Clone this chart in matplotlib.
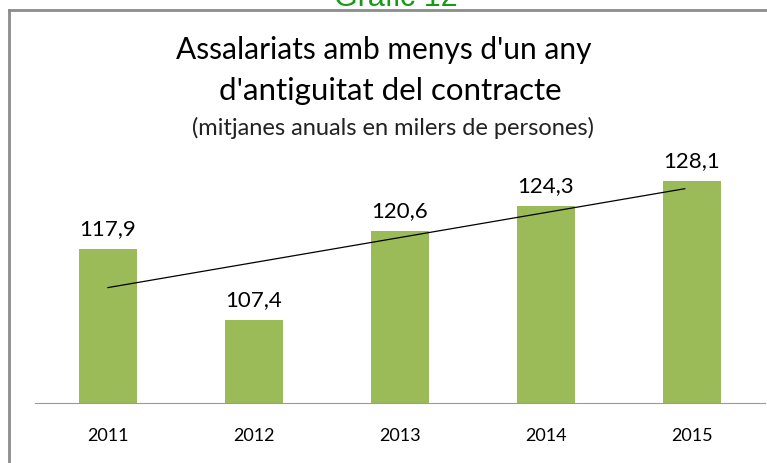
import numpy as np
from matplotlib import pyplot as plt
from matplotlib.lines import Line2D

# dades del grafic
anys = ['2011', '2012', '2013', '2014', '2015']
valors = [117.9, 107.4, 120.6, 124.3, 128.1]
etiquetes = ['117,9', '107,4', '120,6', '124,3', '128,1']

plt.rcParams['font.family'] = ['Lato', 'DejaVu Sans']

fig = plt.figure(figsize=(7.67, 4.63), dpi=100)

# marc gris del grafic
fig.add_artist(Line2D([9/767, 9/767], [0, 1 - 10/463], color='#8c8c8c', lw=2))
fig.add_artist(Line2D([9/767, 1], [1 - 10/463, 1 - 10/463], color='#8c8c8c', lw=2))

# titol superior retallat
fig.text(0.516, 1 + 2/463, 'Gràfic 12', color='#169b16', fontsize=22,
         ha='center', va='center', family=['Liberation Sans', 'DejaVu Sans'])

ax = fig.add_axes([35/767, 60/463, 730/767, 255/463])
x = np.arange(len(anys))
ax.bar(x, valors, width=0.4, color='#9bbb59')

# linia de tendencia lineal
coef = np.polyfit(x, valors, 1)
xt = np.array([0, 3.95])
ax.plot(xt, np.polyval(coef, xt), color='black', lw=0.9)

for xi, v, t in zip(x, valors, etiquetes):
    ax.text(xi, v + 1.5, t, ha='center', va='bottom', fontsize=16, color='black')

ax.set_xlim(-0.5, 4.5)
ax.set_ylim(95, 133)
ax.set_yticks([])
ax.set_xticks(x)
ax.set_xticklabels(anys, fontsize=13)
ax.tick_params(axis='x', length=0, pad=18)
for s in ['top', 'right', 'left']:
    ax.spines[s].set_visible(False)
ax.spines['bottom'].set_color('#9a9a9a')

fig.text(0.500, 1 - 50/463, "Assalariats amb menys d'un any", ha='center', va='center',
         fontsize=21.5)
fig.text(0.509, 1 - 91/463, "d'antiguitat del contracte", ha='center', va='center',
         fontsize=22.5)
fig.text(0.512, 1 - 128/463, "(mitjanes anuals en milers de persones)", ha='center',
         va='center', fontsize=17, color='#222222')

plt.savefig('out.png', dpi=100)
